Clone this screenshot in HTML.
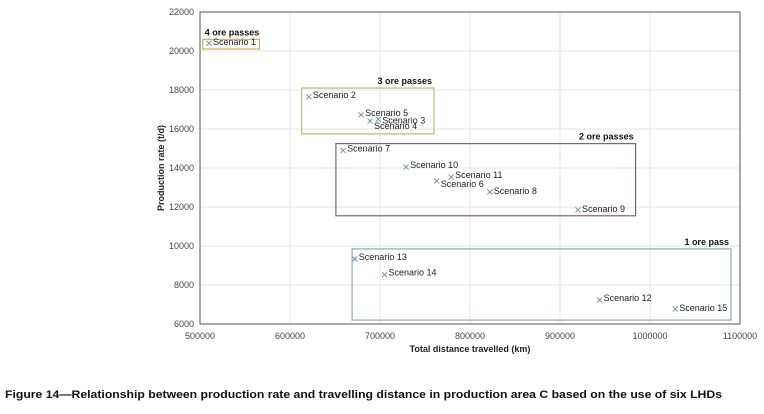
<!DOCTYPE html>
<html><head><meta charset="utf-8"><style>
body{margin:0;background:#fff;width:764px;height:409px;overflow:hidden;font-family:"Liberation Sans",sans-serif}
svg text{font-family:"Liberation Sans",sans-serif}
</style></head><body>
<svg id="chart" width="764" height="409" xmlns="http://www.w3.org/2000/svg"></svg>
<script>
const names=["Scenario 1","Scenario 2","Scenario 3","Scenario 4","Scenario 5","Scenario 6","Scenario 7","Scenario 8","Scenario 9","Scenario 10","Scenario 11","Scenario 12","Scenario 13","Scenario 14","Scenario 15"];
const distances=[510000,621000,698000,689000,679000,763000,659000,822000,920000,729000,779000,944000,672000,705000,1028000];
const rates=[20400,17650,16500,16400,16730,13330,14900,12770,11850,14050,13540,7230,9340,8530,6770];
const labelDy=[1,0,3,7,0,5,0,1,1,0,0,0,0,0,1];
const xTicks=[500000,600000,700000,800000,900000,1000000,1100000];
const yTicks=[6000,8000,10000,12000,14000,16000,18000,20000,22000];
const groupTitles=["4 ore passes","3 ore passes","2 ore passes","1 ore pass"];
const groupX0=[503000,613000,651000,669000];
const groupX1=[566000,760000,984000,1090000];
const groupY0=[20600,18100,15250,9850];
const groupY1=[20100,15750,11550,6200];
const groupColors=["#c8b060","#b8b878","#806070","#88aab8"];
const L=200,R=740,T=12,B=324;
const x=v=>L+(v-500000)/600000*(R-L);
const y=v=>B-(v-6000)/16000*(B-T);
const svg=document.getElementById('chart');
function add(tag,attrs,text){const e=document.createElementNS('http://www.w3.org/2000/svg',tag);for(const k in attrs)e.setAttribute(k,attrs[k]);if(text!==undefined)e.textContent=text;svg.appendChild(e);return e;}
xTicks.forEach(t=>{const g=add('line',{x1:x(t),x2:x(t),y1:T,y2:B,stroke:'#e6e6e6'});

const l=add('text',{x:x(t),y:B+15,'font-size':9,fill:'#444','text-anchor':'middle'},t);
});
yTicks.forEach(t=>{const g=add('line',{x1:L,x2:R,y1:y(t),y2:y(t),stroke:'#e6e6e6'});

const l=add('text',{x:L-6,y:y(t)+3,'font-size':9,fill:'#444','text-anchor':'end'},t);
});
const frame=add('rect',{x:L,y:T,width:R-L,height:B-T,fill:'none',stroke:'#555','stroke-width':1});

groupTitles.forEach((g,i)=>{const r=add('rect',{x:x(groupX0[i]),y:y(groupY0[i]),width:x(groupX1[i])-x(groupX0[i]),height:y(groupY1[i])-y(groupY0[i]),fill:'none',stroke:groupColors[i],'stroke-width':1.2});

const tx=i==0?x(groupX0[i])+2:x(groupX1[i])-2;
const t=add('text',{x:tx,y:y(groupY0[i])-4,'font-size':9,'font-weight':'bold',fill:'#111','text-anchor':i==0?'start':'end'},g);
});
names.forEach((n,i)=>{const px=x(distances[i]),py=y(rates[i]);
const m=add('path',{d:`M${px-2.5},${py-2.5}L${px+2.5},${py+2.5}M${px-2.5},${py+2.5}L${px+2.5},${py-2.5}`,stroke:'#6a8a9a','stroke-width':0.9,fill:'none'});

const l=add('text',{x:px+4,y:py+1+labelDy[i],'font-size':9,fill:'#222'},n);
});
const xt=add('text',{x:(L+R)/2,y:352,'font-size':9,'font-weight':'bold',fill:'#222','text-anchor':'middle'},'Total distance travelled (km)');

const yt=add('text',{x:0,y:0,'font-size':9,'font-weight':'bold',fill:'#222','text-anchor':'middle',transform:'translate(164,168) rotate(-90)'},'Production rate (t/d)');

const cap=add('text',{x:5,y:398,'font-size':11,'font-weight':'bold',fill:'#111',textLength:717,lengthAdjust:'spacingAndGlyphs'},'Figure 14\u2014Relationship between production rate and travelling distance in production area C based on the use of six LHDs');

</script>
</body></html>
